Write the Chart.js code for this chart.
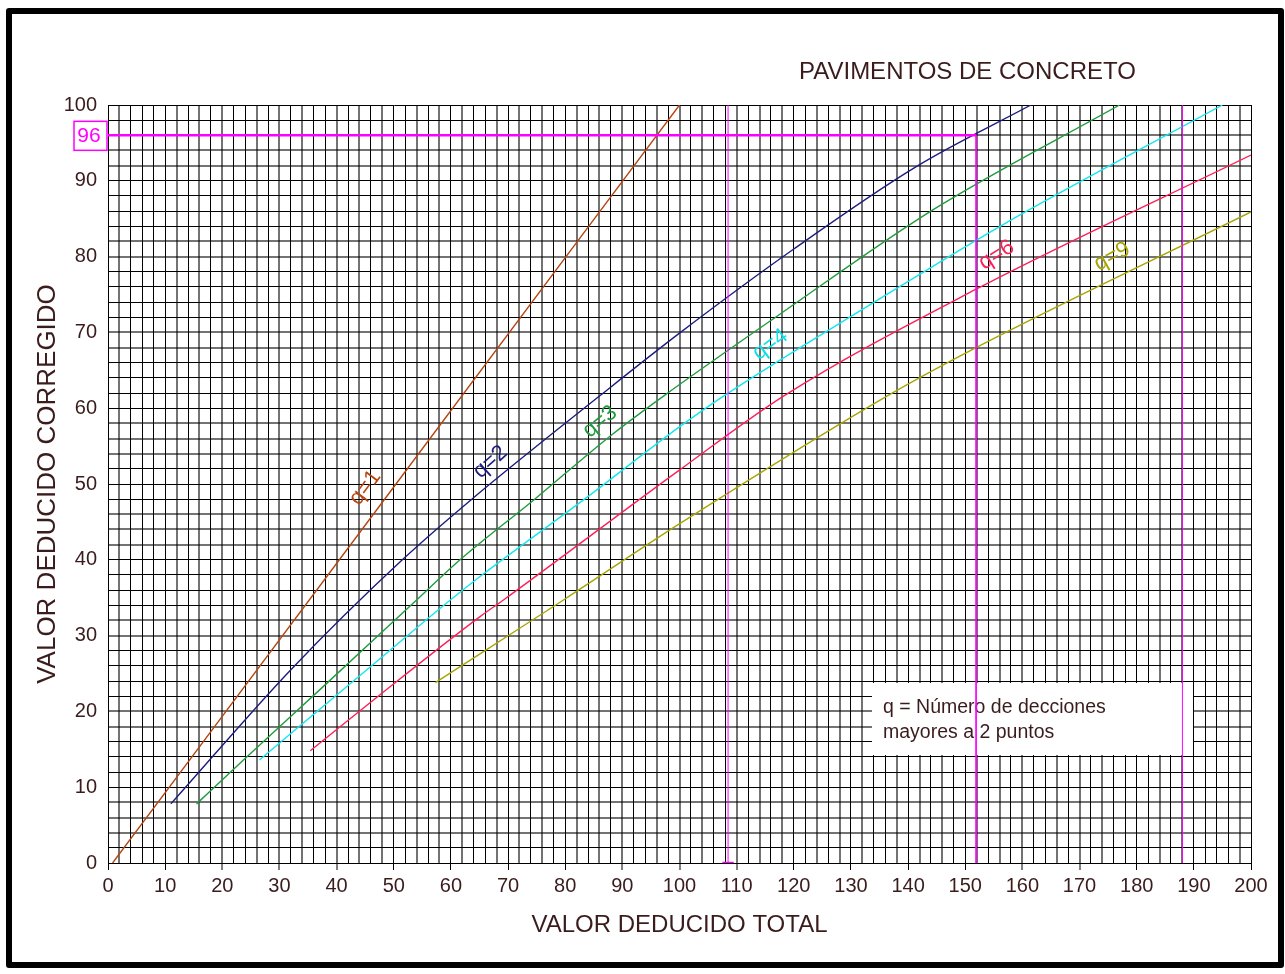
<!DOCTYPE html>
<html>
<head>
<meta charset="utf-8">
<title>Pavimentos de concreto</title>
<script src="https://cdn.jsdelivr.net/npm/chart.js@4"></script>
<style>
  body { margin: 0; background: #fff; }
  #wrap { width: 1285px; height: 974px; }
</style>
</head>
<body>
<div id="wrap"><canvas id="chart" width="1285" height="974"></canvas></div>
<script>
// Curve data (valor deducido total -> valor deducido corregido)
const q1X = [0.8, 50, 100];
const q1Y = [0, 49.6, 100];
const q2X = [11, 32, 51.5, 63.5, 86, 100, 120, 141.5, 161.5];
const q2Y = [7.8, 25.5, 40, 47.9, 61.6, 69.9, 81, 91.9, 100];
const q3X = [15.5, 23.7, 37.7, 54, 61.6, 74.5, 88.5, 97.2, 117, 144.4, 177];
const q3Y = [7.8, 13.6, 23.3, 34.7, 40, 47.9, 56.7, 61.6, 72.1, 86.2, 100];
const q4X = [26.5, 45.3, 59.9, 65.1, 83.2, 100.1, 107.7, 132.8, 156.1, 195];
const q4Y = [13.6, 25.5, 34.7, 37.8, 47.9, 57.6, 61.6, 73.4, 84, 100];
const q6X = [35.4, 47.6, 65.1, 69.2, 100.1, 118.2, 151.9, 200];
const q6Y = [14.8, 22.2, 32.5, 34.7, 51.9, 61.6, 75.7, 93.4];
const q9X = [57.3, 65.1, 79.7, 100.1, 136.3, 151.9, 200];
const q9Y = [23.8, 27.6, 34.7, 44.8, 61.6, 68, 85.9];

// magenta reading lines
const readHX = [0, 151.9];
const readHY = [96, 96];
const readVX = [151.9, 151.9];
const readVY = [96, 0];
const markAX = [108.5, 108.5];
const markAY = [0, 100];
const markBX = [188, 188];
const markBY = [0, 100];
const markCX = [107.5, 109.5];
const markCY = [0, 0];

const xTickStep = 2;
const yTickStep = 2;

const curveLabels = [
  { text: 'q=1', x: 45, y: 49.5, angle: -53, color: '#b5450f' },
  { text: 'q=2', x: 66.9, y: 52.9, angle: -42, color: '#1c1c80' },
  { text: 'q=3', x: 86.1, y: 58.2, angle: -39, color: '#1f9c3c' },
  { text: 'q=4', x: 115.9, y: 68.4, angle: -36, color: '#10e0e8' },
  { text: 'q=6', x: 155.5, y: 80.2, angle: -32, color: '#ff1f58' },
  { text: 'q=9', x: 175.7, y: 80, angle: -29, color: '#a8a400' }
];

const textColor = '#3a1c1c';
const fontFamily = '"Liberation Sans", Arial, sans-serif';

function pts(xs, ys) {
  return xs.map((x, i) => ({ x: x, y: ys[i] }));
}

function curve(xs, ys, color) {
  return {
    data: pts(xs, ys),
    borderColor: color,
    borderWidth: 1.4,
    pointRadius: 0,
    cubicInterpolationMode: 'monotone',
    fill: false
  };
}

function magenta(xs, ys, w) {
  return {
    data: pts(xs, ys),
    borderColor: '#ff00ff',
    borderWidth: w,
    pointRadius: 0,
    tension: 0,
    fill: false
  };
}

// blurry grid lines like the scanned original
function isBlurry(ctx) {
  const px = ctx.scale.getPixelForTick(ctx.index);
  const f = px - Math.floor(px);
  return f > 0.3 && f < 0.7;
}
function gridColor(ctx) {
  return isBlurry(ctx) ? 'rgba(0,0,0,0.55)' : '#000';
}
function gridWidth(ctx) {
  return isBlurry(ctx) ? 2 : 1;
}

const framePlugin = {
  id: 'frame',
  beforeDraw(chart) {
    const c = chart.ctx;
    c.save();
    c.fillStyle = '#fff';
    c.fillRect(0, 0, chart.width, chart.height);
    c.strokeStyle = '#000';
    c.lineWidth = 6;
    c.lineJoin = 'round';
    c.strokeRect(9, 11, 1272, 954);
    c.restore();
  },
  beforeDatasetsDraw(chart) {
    // legend note box
    const c = chart.ctx;
    c.save();
    c.fillStyle = '#fff';
    c.fillRect(872, 683, 321, 72);
    c.fillStyle = textColor;
    c.font = '19.5px ' + fontFamily;
    c.textAlign = 'left';
    c.textBaseline = 'alphabetic';
    c.fillText('q = Número de decciones', 883, 713);
    c.fillText('mayores a 2 puntos', 883, 738);
    c.restore();
  },
  afterDatasetsDraw(chart) {
    const c = chart.ctx;
    const xs = chart.scales.x, ys = chart.scales.y;
    c.save();
    c.font = '22px ' + fontFamily;
    c.textAlign = 'center';
    c.textBaseline = 'middle';
    curveLabels.forEach(l => {
      c.save();
      c.translate(xs.getPixelForValue(l.x), ys.getPixelForValue(l.y));
      c.rotate(l.angle * Math.PI / 180);
      c.fillStyle = l.color;
      c.fillText(l.text, 0, 0);
      c.restore();
    });
    c.restore();
  },
  afterDraw(chart) {
    const c = chart.ctx;
    const ys = chart.scales.y;
    c.save();
    // "96" reading box
    const py = ys.getPixelForValue(96);
    c.strokeStyle = '#ff00ff';
    c.lineWidth = 1.5;
    c.strokeRect(74, py - 14, 33, 29);
    c.fillStyle = '#ff00ff';
    c.font = '21px ' + fontFamily;
    c.textAlign = 'center';
    c.textBaseline = 'middle';
    c.fillText('96', 89, py + 1);
    // title
    c.fillStyle = textColor;
    c.font = '24px ' + fontFamily;
    c.textAlign = 'left';
    c.textBaseline = 'alphabetic';
    c.fillText('PAVIMENTOS DE CONCRETO', 799, 79);
    c.restore();
  }
};

new Chart(document.getElementById('chart'), {
  type: 'line',
  data: {
    datasets: [
      magenta(readHX, readHY, 2.5),
      magenta(readVX, readVY, 1),
      magenta(markAX, markAY, 1),
      magenta(markBX, markBY, 1),
      magenta(markCX, markCY, 2.5),
      curve(q1X, q1Y, '#b5450f'),
      curve(q2X, q2Y, '#1c1c80'),
      curve(q3X, q3Y, '#1f9c3c'),
      curve(q4X, q4Y, '#10e8ee'),
      curve(q6X, q6Y, '#ff1f58'),
      curve(q9X, q9Y, '#a8a400')
    ]
  },
  options: {
    responsive: false,
    animation: false,
    layout: { padding: { left: 32, top: 105, right: 34, bottom: 34 } },
    plugins: {
      legend: { display: false },
      tooltip: { enabled: false }
    },
    scales: {
      x: {
        type: 'linear',
        min: 0,
        max: 200,
        afterFit(s) { s.height = 77; },
        border: { color: '#000', width: 1 },
        grid: {
          color: gridColor,
          lineWidth: gridWidth,
          drawTicks: true,
          tickLength: 7,
          tickColor: ctx => (ctx.tick && ctx.tick.value % 10 === 0) ? '#000' : 'rgba(0,0,0,0)',
          tickWidth: 1
        },
        ticks: {
          stepSize: xTickStep,
          autoSkip: false,
          maxRotation: 0,
          padding: 4,
          color: textColor,
          font: { family: fontFamily, size: 20 },
          callback: v => (v % 10 === 0 ? v : '')
        },
        title: {
          display: true,
          text: 'VALOR DEDUCIDO TOTAL',
          color: textColor,
          padding: 0,
          font: { family: fontFamily, size: 24 }
        }
      },
      y: {
        min: 0,
        max: 100,
        afterFit(s) { s.width = 76; },
        border: { color: '#000', width: 1 },
        grid: {
          color: gridColor,
          lineWidth: gridWidth,
          drawTicks: false
        },
        ticks: {
          stepSize: yTickStep,
          autoSkip: false,
          padding: 11,
          color: textColor,
          font: { family: fontFamily, size: 20 },
          callback: v => (v % 10 === 0 ? v : '')
        },
        title: {
          display: true,
          text: 'VALOR DEDUCIDO CORREGIDO',
          color: textColor,
          padding: 0,
          font: { family: fontFamily, size: 26 }
        }
      }
    }
  },
  plugins: [framePlugin]
});
</script>
</body>
</html>
